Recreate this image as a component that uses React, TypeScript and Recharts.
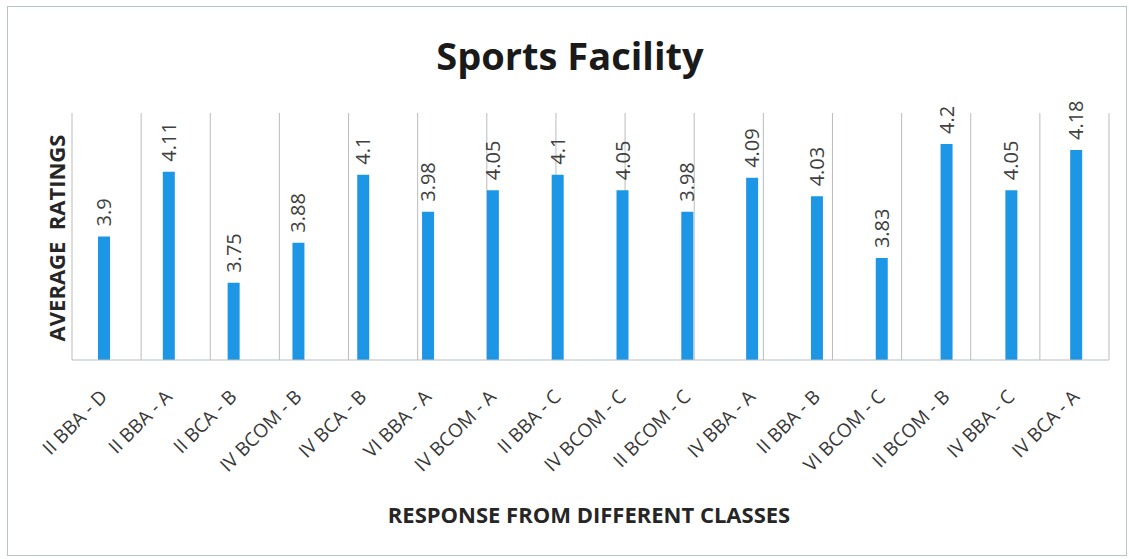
import React from 'react';
import { BarChart, Bar, XAxis, YAxis, CartesianGrid, LabelList } from 'recharts';

const categories = [
  'II BBA - D', 'II BBA - A', 'II BCA - B', 'IV BCOM - B', 'IV BCA - B', 'VI BBA - A',
  'IV BCOM - A', 'II BBA - C', 'IV BCOM - C', 'II BCOM - C', 'IV BBA - A', 'II BBA - B',
  'VI BCOM - C', 'II BCOM - B', 'IV BBA - C', 'IV BCA - A',
];
const ratings = [3.9, 4.11, 3.75, 3.88, 4.1, 3.98, 4.05, 4.1, 4.05, 3.98, 4.09, 4.03, 3.83, 4.2, 4.05, 4.18];
const gridTicks = categories.map((_, i) => i).concat([categories.length]);

const data = categories.map((name, i) => ({ name, value: ratings[i] }));

const FONT = '"Open Sans", sans-serif';

const Tick = (props: any) => {
  const { x, y, payload } = props;
  return (
    <g transform={`translate(${x + 4},${y + 30})`}>
      <text x={0} y={0} transform="rotate(-45)" textAnchor="end" fill="#383838" fontSize={19} fontFamily={FONT}>
        {payload.value}
      </text>
    </g>
  );
};

const ValueLabel = (props: any) => {
  const { x, y, width, value } = props;
  const cx = x + width / 2;
  return (
    <text
      x={0}
      y={0}
      dy="0.35em"
      transform={`translate(${cx},${y - 10}) rotate(-90)`}
      textAnchor="start"
      fill="#404040"
      fontSize={20}
      fontFamily={FONT}
    >
      {value}
    </text>
  );
};

export default function App() {
  return (
    <div style={{ position: 'absolute', left: 0, top: 0, width: 1129, height: 559, background: '#fff', fontFamily: FONT }}>
      <div style={{ position: 'absolute', left: 7, top: 6, width: 1120, height: 550, border: '1px solid #b9c4c4', boxSizing: 'border-box' }} />
      <div style={{ position: 'absolute', left: 0, width: 1140, top: 30, textAlign: 'center', fontSize: 38, fontWeight: 700, color: '#1a1a1a', lineHeight: '50px' }}>
        Sports Facility
      </div>
      <div
        style={{
          position: 'absolute', left: 56, top: 238, transform: 'translate(-50%,-50%) rotate(-90deg)',
          fontSize: 22, fontWeight: 700, color: '#262626', whiteSpace: 'pre',
        }}
      >
        {'AVERAGE  RATINGS'}
      </div>
      <div style={{ position: 'absolute', left: 0, width: 1178, top: 499, textAlign: 'center', fontSize: 22, fontWeight: 700, color: '#262626' }}>
        RESPONSE FROM DIFFERENT CLASSES
      </div>
      <BarChart width={1129} height={559} data={data} margin={{ top: 113, right: 20, bottom: 0, left: 72 }} barCategoryGap={0}>
        <XAxis xAxisId="grid" type="number" domain={[0, categories.length]} ticks={gridTicks} hide />
        <CartesianGrid xAxisId="grid" horizontal={false} vertical stroke="#b8bdbd" strokeWidth={1} />
        <XAxis
          dataKey="name"
          interval={0}
          tickLine={false}
          axisLine={{ stroke: '#b8bdbd' }}
          tick={<Tick />}
          height={199}
        />
        <YAxis domain={[3.5, 4.3]} hide allowDataOverflow />
        <Bar dataKey="value" fill="#1e96e6" barSize={12} isAnimationActive={false}>
          <LabelList dataKey="value" content={<ValueLabel />} />
        </Bar>
      </BarChart>
    </div>
  );
}
